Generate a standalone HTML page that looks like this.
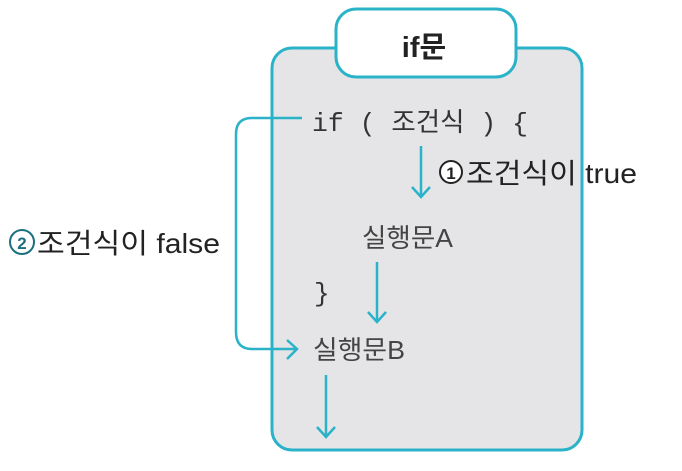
<!DOCTYPE html><html><head><meta charset="utf-8"><style>body{margin:0;width:682px;height:466px;background:#fff;overflow:hidden}</style></head><body>
<svg width="682" height="466" viewBox="0 0 682 466" xmlns="http://www.w3.org/2000/svg">
<rect x="272" y="48" width="310" height="402" rx="20" fill="#e5e5e7" stroke="#2ab3c8" stroke-width="3"/>
<rect x="336" y="9" width="180" height="68" rx="20" fill="#fff" stroke="#2ab3c8" stroke-width="3"/>
<text x="424" y="57" text-anchor="middle" font-family="Liberation Sans, Noto Sans CJK KR, sans-serif" font-size="29" font-weight="bold" fill="#222">if문</text>
<text x="312" y="131" font-family="Liberation Mono, Noto Sans CJK KR, monospace" font-size="26" fill="#333" xml:space="preserve" textLength="216" lengthAdjust="spacingAndGlyphs">if ( 조건식 ) {</text>
<g fill="none" stroke="#2ab3c8" stroke-width="2.5">
<path d="M302 118 H252 Q236 118 236 134 V332 Q236 349 252 349 H296"/>
<path d="M287 340 L297 349 L287 359"/>
<path d="M421 146 V197 M412 187 L421 197 L430 187"/>
<path d="M377 262 V322 M368 312 L377 322 L386 312"/>
<path d="M326 375 V437 M317 427 L326 437 L335 427"/>
</g>
<circle cx="451" cy="172" r="11" fill="#fff" stroke="#222" stroke-width="2"/>
<text x="451" y="179" text-anchor="middle" font-family="Liberation Sans, sans-serif" font-size="17" font-weight="bold" fill="#222">1</text>
<text x="466" y="183" font-family="Liberation Sans, Noto Sans CJK KR, sans-serif" font-size="28" fill="#222" textLength="171" lengthAdjust="spacingAndGlyphs">조건식이 true</text>
<circle cx="22" cy="242" r="12" fill="#fff" stroke="#1a6f80" stroke-width="2"/>
<text x="22" y="249" text-anchor="middle" font-family="Liberation Sans, sans-serif" font-size="17" font-weight="bold" fill="#1a6f80">2</text>
<text x="37" y="253" font-family="Liberation Sans, Noto Sans CJK KR, sans-serif" font-size="28" fill="#222" textLength="183" lengthAdjust="spacingAndGlyphs">조건식이 false</text>
<text x="362" y="247" font-family="Liberation Sans, Noto Sans CJK KR, sans-serif" font-size="26" fill="#444" textLength="91" lengthAdjust="spacingAndGlyphs">실행문A</text>
<text x="314" y="301" font-family="Liberation Mono, monospace" font-size="26" fill="#333">}</text>
<text x="313" y="359" font-family="Liberation Sans, Noto Sans CJK KR, sans-serif" font-size="26" fill="#444" textLength="92" lengthAdjust="spacingAndGlyphs">실행문B</text>
</svg>
</body></html>
